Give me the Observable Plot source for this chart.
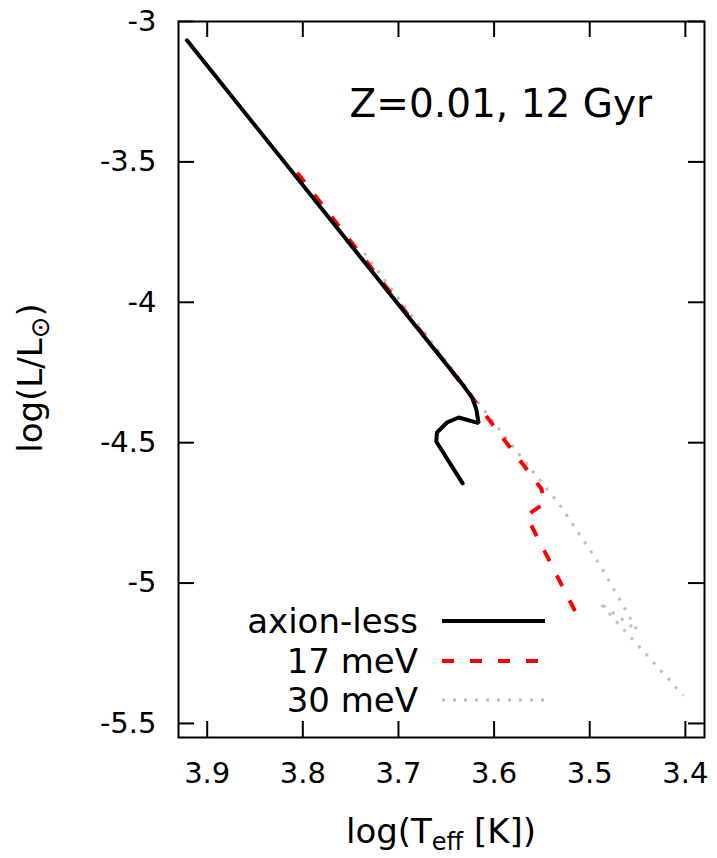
<!DOCTYPE html>
<html>
<head>
<meta charset="utf-8">
<script src="https://cdn.jsdelivr.net/npm/d3@7"></script>
<script src="https://cdn.jsdelivr.net/npm/@observablehq/plot@0.6"></script>
<style>
  html, body { margin: 0; padding: 0; background: #fff; }
  svg { display: block; }
</style>
</head>
<body>
<div id="chart"></div>
<script>
// ---- data ----
const xTicks = [3.9, 3.8, 3.7, 3.6, 3.5, 3.4];
const yTicks = [-3, -3.5, -4, -4.5, -5, -5.5];

const axionLessT = [3.9212, 3.6319, 3.6231, 3.6186, 3.6162, 3.6371, 3.6493, 3.6597, 3.6605, 3.6329];
const axionLessL = [-3.0672, -4.2977, -4.3393, -4.3805, -4.4303, -4.4104, -4.4282, -4.4637, -4.4957, -4.6451];

const mev17T = [3.8059, 3.6249, 3.5506, 3.5464, 3.5663, 3.5119];
const mev17L = [-3.5384, -4.3297, -4.6640, -4.7137, -4.7600, -5.1227];

const mev30T = [3.7358, 3.6249, 3.5726, 3.5307, 3.4889, 3.4502, 3.4900, 3.4021];
const mev30L = [-3.8247, -4.3226, -4.5466, -4.7244, -4.9378, -5.1689, -5.0693, -5.4004];

const seriesNames = ["axion-less", "17 meV", "30 meV"];
const annotation = "Z=0.01, 12 Gyr";

// ---- layout ----
const W = 717, H = 858;
const mL = 178, mR = 13, mT = 21, mB = 121;
const innerH = H - mT - mB, innerW = W - mL - mR;
const tickLen = 16;
const font = "DejaVu Sans, sans-serif";

const pts = (t, l) => t.map((v, i) => [v, l[i]]);

const styles = [
  {stroke: "#000000", strokeWidth: 4},
  {stroke: "#ff0000", strokeWidth: 4, strokeDasharray: "12,16"},
  {stroke: "#c0c0c0", strokeWidth: 3, strokeDasharray: "3,8"}
];

const plot = Plot.plot({
  width: W, height: H,
  marginLeft: mL, marginRight: mR, marginTop: mT, marginBottom: mB,
  style: {fontFamily: font, background: "#fff", color: "#000"},
  x: {domain: [3.93, 3.38]},
  y: {domain: [-5.55, -3]},
  marks: [
    Plot.line(pts(mev30T, mev30L), {...styles[2], strokeLinecap: "butt"}),
    Plot.line(pts(mev17T, mev17L), {...styles[1], strokeLinecap: "butt"}),
    Plot.line(pts(axionLessT, axionLessL), {...styles[0], strokeLinejoin: "miter"}),
    // inward ticks on all four sides
    Plot.tickX(xTicks, {x: d => d, insetTop: innerH - tickLen, stroke: "#000", strokeWidth: 2}),
    Plot.tickX(xTicks, {x: d => d, insetBottom: innerH - tickLen, stroke: "#000", strokeWidth: 2}),
    Plot.tickY(yTicks, {y: d => d, insetRight: innerW - tickLen, stroke: "#000", strokeWidth: 2}),
    Plot.tickY(yTicks, {y: d => d, insetLeft: innerW - tickLen, stroke: "#000", strokeWidth: 2}),
    Plot.axisX(xTicks, {tickSize: 0, tickPadding: 25, fontSize: 29, tickFormat: d => d.toFixed(1), label: null}),
    Plot.axisY(yTicks, {tickSize: 0, tickPadding: 22, fontSize: 29, tickFormat: d => String(d), label: null}),
    Plot.frame({stroke: "#000", strokeWidth: 2})
  ]
});

document.getElementById("chart").appendChild(plot);

// ---- annotation, axis titles and legend (added into the SVG) ----
const svg = d3.select(plot);

svg.append("text")
  .attr("x", 652).attr("y", 117)
  .attr("text-anchor", "end")
  .attr("font-family", font).attr("font-size", 39)
  .attr("fill", "#000")
  .text(annotation);

// x axis title: log(T_eff [K])
const xt = svg.append("text")
  .attr("x", 441).attr("y", 843)
  .attr("text-anchor", "middle")
  .attr("font-family", font).attr("font-size", 34).attr("fill", "#000");
xt.append("tspan").text("log(T");
xt.append("tspan").attr("font-size", 24).attr("dy", 7).text("eff");
xt.append("tspan").attr("dy", -7).text(" [K])");

// y axis title: log(L/L_⊙)
const yt = svg.append("text")
  .attr("transform", "translate(42,378) rotate(-90)")
  .attr("text-anchor", "middle")
  .attr("font-family", font).attr("font-size", 34).attr("fill", "#000");
yt.append("tspan").text("log(L/L");
yt.append("tspan").attr("font-size", 26).attr("dy", 7).text("⊙");
yt.append("tspan").attr("dy", -7).text(")");

// legend
const legY = [621, 661, 700];
const lg = svg.append("g");
seriesNames.forEach((name, i) => {
  lg.append("text")
    .attr("x", 418).attr("y", legY[i] + 12)
    .attr("text-anchor", "end")
    .attr("font-family", font).attr("font-size", 34).attr("fill", "#000")
    .text(name);
  const s = styles[i];
  lg.append("line")
    .attr("x1", 442).attr("x2", 545)
    .attr("y1", legY[i]).attr("y2", legY[i])
    .attr("stroke", s.stroke).attr("stroke-width", s.strokeWidth)
    .attr("stroke-dasharray", s.strokeDasharray || null);
});
</script>
</body>
</html>
